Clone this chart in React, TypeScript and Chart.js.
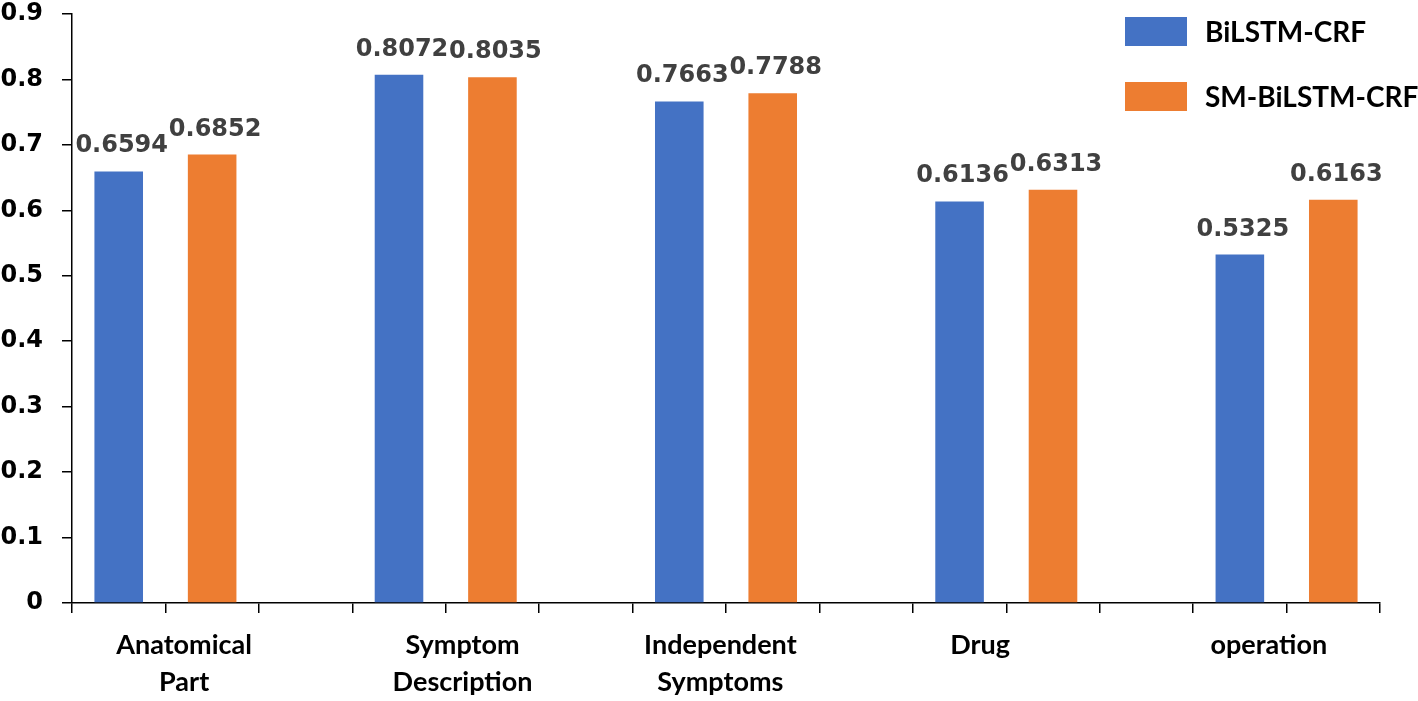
import React, { useEffect, useRef } from "react";
import { Chart, registerables } from "chart.js";

Chart.register(...registerables);

const categories: (string | string[])[] = [
  ["Anatomical", "Part"],
  ["Symptom", "Description"],
  ["Independent", "Symptoms"],
  "Drug",
  "operation",
];
const bilstmCrf = [0.6594, 0.8072, 0.7663, 0.6136, 0.5325];
const smBilstmCrf = [0.6852, 0.8035, 0.7788, 0.6313, 0.6163];
const seriesNames = ["BiLSTM-CRF", "SM-BiLSTM-CRF"];
const yTicks = [0, 0.1, 0.2, 0.3, 0.4, 0.5, 0.6, 0.7, 0.8, 0.9];

const BLUE = "#4472C4";
const ORANGE = "#ED7D31";

// Slot table: each group uses [blue, orange, gap]; last group has no trailing gap.
const slotCount = categories.length * 3 - 1;
const slotLabels = Array.from({ length: slotCount }, (_, i) => String(i));
const blueSlots = Array.from({ length: slotCount }, (_, i) =>
  i % 3 === 0 ? bilstmCrf[i / 3] : null
);
const orangeSlots = Array.from({ length: slotCount }, (_, i) =>
  i % 3 === 1 ? smBilstmCrf[(i - 1) / 3] : null
);
// where the group labels sit along the slot axis (in slot units)
const groupLabelAt = [1.2, 4.18, 6.94, 9.72, 12.81];

const valueLabels = {
  id: "valueLabels",
  afterDatasetsDraw(chart: any) {
    const ctx = chart.ctx;
    ctx.save();
    ctx.font = "bold 24px 'DejaVu Sans'";
    ctx.fillStyle = "#404040";
    ctx.textAlign = "center";
    ctx.textBaseline = "alphabetic";
    chart.data.datasets.forEach((ds: any, di: number) => {
      const meta = chart.getDatasetMeta(di);
      meta.data.forEach((el: any, i: number) => {
        const v = ds.data[i];
        if (v === null || v === undefined) return;
        ctx.fillText(v.toFixed(4), el.x + 3, el.y - 19);
      });
    });
    ctx.restore();
  },
};

export default function App() {
  const ref = useRef<HTMLCanvasElement | null>(null);

  useEffect(() => {
    if (!ref.current) return;
    const chart = new Chart(ref.current, {
      type: "bar",
      data: {
        labels: slotLabels,
        datasets: [
          {
            label: seriesNames[0],
            data: blueSlots,
            backgroundColor: BLUE,
            categoryPercentage: 1,
            barPercentage: 0.52,
          },
          {
            label: seriesNames[1],
            data: orangeSlots,
            backgroundColor: ORANGE,
            categoryPercentage: 1,
            barPercentage: 0.52,
          },
        ],
      },
      options: {
        animation: false,
        responsive: true,
        maintainAspectRatio: false,
        skipNull: true,
        layout: { padding: { top: 14, right: 38, left: 0, bottom: 0 } },
        plugins: {
          legend: { display: false },
          tooltip: { enabled: false },
        },
        scales: {
          x: {
            type: "category",
            position: "bottom",
            grid: {
              offset: true,
              drawOnChartArea: false,
              drawTicks: true,
              tickLength: 10,
              color: "#000",
              lineWidth: 1.5,
            },
            border: { display: true, color: "#000", width: 1.5 },
            ticks: { display: false },
            afterFit: (s: any) => {
              s.height = 10;
            },
          },
          x2: {
            type: "linear",
            position: "bottom",
            offset: false,
            min: 0,
            max: slotCount,
            grid: { display: false, offset: false },
            border: { display: false },
            afterBuildTicks: (s: any) => {
              s.ticks = groupLabelAt.map((v) => ({ value: v }));
            },
            ticks: {
              autoSkip: false,
              maxRotation: 0,
              minRotation: 0,
              padding: 5,
              color: "#000",
              font: { family: "Lato", weight: "bold", size: 27, lineHeight: 1.4 },
              callback: (_v: any, i: number) => categories[i],
            },
            afterFit: (s: any) => {
              s.height = 88;
            },
          },
          y: {
            min: 0,
            max: 0.9,
            afterBuildTicks: (s: any) => {
              s.ticks = yTicks.map((v) => ({ value: v }));
            },
            grid: {
              drawOnChartArea: false,
              drawTicks: true,
              tickLength: 10,
              color: "#000",
              lineWidth: 1.5,
            },
            border: { display: true, color: "#000", width: 1.5 },
            ticks: {
              padding: 19,
              color: "#000",
              font: { family: "DejaVu Sans", weight: "bold", size: 24 },
              callback: (v: any) => (v === 0 ? "0" : Number(v).toFixed(1)),
            },
            afterFit: (s: any) => {
              s.width = 72;
              s.paddingTop = 0;
              s.paddingBottom = 0;
            },
          },
        },
      } as any,
      plugins: [valueLabels],
    });
    return () => chart.destroy();
  }, []);

  const legendItem = (color: string, name: string, top: number) => (
    <div
      key={name}
      style={{
        position: "absolute",
        left: 1125,
        top,
        height: 29,
        display: "flex",
        alignItems: "center",
        whiteSpace: "nowrap",
      }}
    >
      <div style={{ width: 62, height: 29, background: color }} />
      <span
        style={{
          marginLeft: 18,
          font: "bold 28px Lato",
          color: "#000",
          lineHeight: "29px",
        }}
      >
        {name}
      </span>
    </div>
  );

  return (
    <div
      style={{
        position: "fixed",
        left: 0,
        top: 0,
        width: 1418,
        height: 701,
        background: "#fff",
      }}
    >
      <canvas ref={ref} />
      {legendItem(BLUE, seriesNames[0], 17)}
      {legendItem(ORANGE, seriesNames[1], 82)}
    </div>
  );
}
